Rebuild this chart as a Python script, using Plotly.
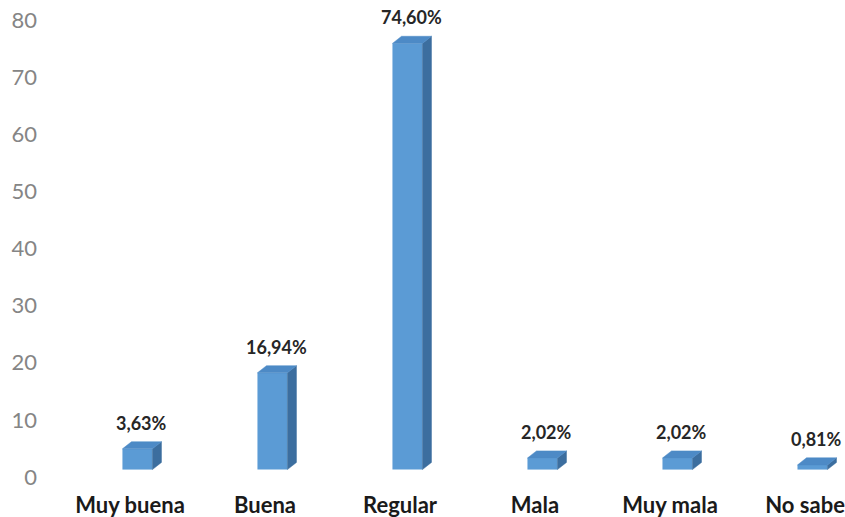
import plotly.graph_objects as go

categories = ["Muy buena", "Buena", "Regular", "Mala", "Muy mala", "No sabe"]
values = [3.63, 16.94, 74.60, 2.02, 2.02, 0.81]
value_labels = ["3,63%", "16,94%", "74,60%", "2,02%", "2,02%", "0,81%"]
y_ticks = [0, 10, 20, 30, 40, 50, 60, 70, 80]

# 3D-look geometry (in axis units)
BASE = 1.3       # floor offset of the front face
HALF_W = 0.111   # half width of front face
SHIFT = 0.055    # front face center offset from category tick
DX = 0.067       # depth offset x
DY = 1.25        # depth offset y

FRONT = "#5B9BD5"
SIDE = "#3C6E9F"
TOP = "#4D8AC6"

idx = list(range(len(categories)))

fig = go.Figure()

# front faces as bars
fig.add_trace(go.Bar(
    x=[i + SHIFT for i in idx], y=values, base=[BASE] * len(values),
    width=2 * HALF_W, marker=dict(color=FRONT, line=dict(width=0)),
    hoverinfo="skip", showlegend=False))

# side and top faces
sx, sy, tx, ty = [], [], [], []
for i, v in zip(idx, values):
    xl = i + SHIFT - HALF_W
    xr = i + SHIFT + HALF_W
    top = BASE + v
    sx += [xr, xr + DX, xr + DX, xr, xr, None]
    sy += [BASE, BASE + DY, top + DY, top, BASE, None]
    tx += [xl, xl + DX, xr + DX, xr, xl, None]
    ty += [top, top + DY, top + DY, top, top, None]

fig.add_trace(go.Scatter(x=sx, y=sy, mode="lines", fill="toself",
                         fillcolor=SIDE, line=dict(width=0.5, color=SIDE),
                         hoverinfo="skip", showlegend=False))
fig.add_trace(go.Scatter(x=tx, y=ty, mode="lines", fill="toself",
                         fillcolor=TOP, line=dict(width=0.5, color=TOP),
                         hoverinfo="skip", showlegend=False))

for i, v, lab in zip(idx, values, value_labels):
    fig.add_annotation(x=i + SHIFT + DX / 2, y=BASE + v + DY, text="<b>%s</b>" % lab,
                       showarrow=False, yanchor="bottom", yshift=6,
                       font=dict(family="Lato", size=18, color="#262626"))

fig.update_layout(
    width=845, height=517,
    margin=dict(l=44, r=0, t=20, b=40),
    paper_bgcolor="white", plot_bgcolor="white",
    xaxis=dict(range=[-0.637, 5.296], tickmode="array", tickvals=idx,
               ticktext=["<b>%s</b>" % c for c in categories],
               showgrid=False, zeroline=False, showline=False, ticks="",
               ticklabelstandoff=13, ticklabeloverflow="allow",
               tickfont=dict(family="Lato", size=22, color="#1a1a1a")),
    yaxis=dict(range=[0, 80], tickmode="array", tickvals=y_ticks,
               showgrid=False, zeroline=False, showline=False, ticks="",
               ticklabelstandoff=6,
               tickfont=dict(family="Lato", size=22, color="#858585")),
)

fig.write_html("out.html")
